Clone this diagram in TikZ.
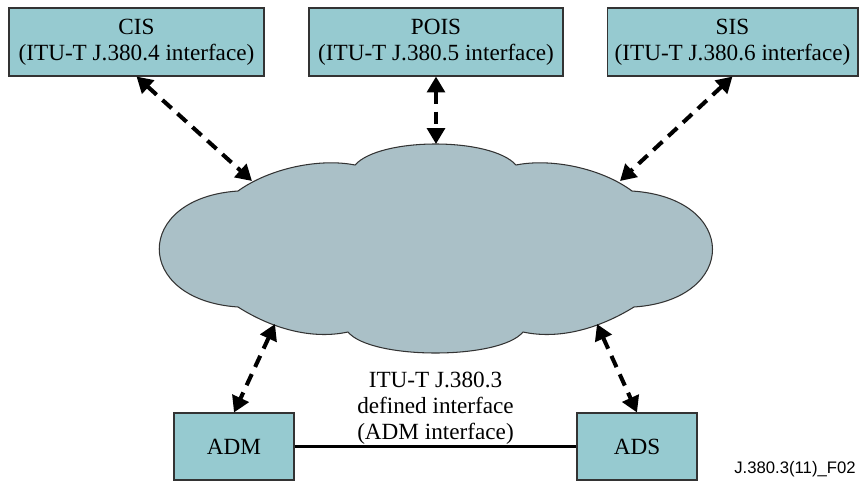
\documentclass[tikz,border=0pt]{standalone}
\usepackage{fontspec}
\setmainfont{Liberation Serif}
\newfontfamily\figfont{Liberation Sans}
\usepackage{tikz}
\usetikzlibrary{arrows.meta, positioning, calc}
\definecolor{boxfill}{RGB}{150,202,208}
\definecolor{cloudfill}{RGB}{170,192,199}
\tikzstyle{iface} = [rectangle, draw=black!80, line width=0.6pt, fill=boxfill, align=center, font=\fontsize{13.2}{14.7}\selectfont, inner sep=0pt]
\tikzstyle{link} = [line width=2.3pt, dash pattern=on 7pt off 4.5pt, {Triangle[length=9pt,width=10pt]}-{Triangle[length=9pt,width=10pt]}]

\begin{document}
\begin{tikzpicture}[x=0.02cm, y=-0.02cm]
        \useasboundingbox (0,0) rectangle (860,484);

        % Top: interface boxes
        \node[iface, minimum width=5.1cm, minimum height=1.36cm] (cis) at (136.5, 42) {CIS\\(ITU-T J.380.4 interface)};
        \node[iface, minimum width=5.08cm, minimum height=1.36cm] (pois) at (436, 42) {POIS\\(ITU-T J.380.5 interface)};
        \node[iface, minimum width=5.02cm, minimum height=1.36cm] (sis) at (732.5, 42) {SIS\\(ITU-T J.380.6 interface)};

        % Middle: the cloud
        \draw[black!80, line width=0.6pt, fill=cloudfill]
            (238,191) .. controls (270,168) and (320,158) .. (355,165)
            .. controls (380,137) and (491,137) .. (516,165)
            .. controls (551,158) and (601,168) .. (632,191)
            .. controls (739,198) and (739,300) .. (634,307)
            .. controls (600,328) and (560,340) .. (523,332)
            .. controls (500,360) and (371,360) .. (348,332)
            .. controls (311,340) and (271,328) .. (238,307)
            .. controls (133,300) and (133,198) .. cycle;
        \coordinate (cl-nw) at (252,181);
        \coordinate (cl-n) at (436,144);
        \coordinate (cl-ne) at (620,181);
        \coordinate (cl-sw) at (275,324);
        \coordinate (cl-se) at (597,324);

        % Bottom: ADM and ADS
        \node[iface, minimum width=2.4cm, minimum height=1.34cm] (adm) at (234, 446.5) {ADM};
        \node[iface, minimum width=2.4cm, minimum height=1.34cm] (ads) at (637, 446.5) {ADS};
        \draw[line width=1.7pt] (adm) -- node[above=-3pt, align=center, font=\fontsize{13.2}{14.7}\selectfont]{ITU-T J.380.3\\defined interface\\(ADM interface)} (ads);

        % Links to the cloud
        \draw[link] (cis.south) -- (cl-nw);
        \draw[link] (pois.south) -- (cl-n);
        \draw[link] (sis.south) -- (cl-ne);
        \draw[link] (cl-sw) -- (adm.north);
        \draw[link] (cl-se) -- (ads.north);

        \node[font=\figfont\fontsize{9.5}{11}\selectfont] (figid) at (795, 469) {J.380.3(11)\_F02};
    \end{tikzpicture}
\end{document}
